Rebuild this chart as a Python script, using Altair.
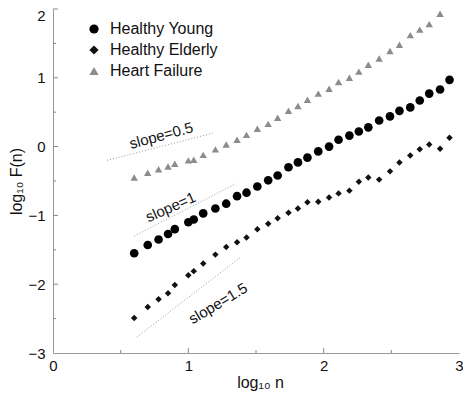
import altair as alt
import pandas as pd

# log10 n positions
log_n = [0.60, 0.70, 0.78, 0.85, 0.90, 1.00, 1.04, 1.11, 1.20, 1.28, 1.36, 1.43,
         1.51, 1.59, 1.66, 1.74, 1.81, 1.88, 1.96, 2.04, 2.11, 2.19, 2.26, 2.33,
         2.41, 2.49, 2.56, 2.64, 2.71, 2.78, 2.86, 2.93]

healthy_young = [-1.55, -1.43, -1.35, -1.27, -1.20, -1.10, -1.06, -0.97, -0.90, -0.83,
                 -0.72, -0.67, -0.58, -0.49, -0.42, -0.30, -0.23, -0.16, -0.07, 0.00,
                 0.10, 0.16, 0.22, 0.28, 0.38, 0.44, 0.52, 0.57, 0.67, 0.77, 0.83, 0.97]

healthy_elderly = [-2.49, -2.33, -2.22, -2.13, -2.01, -1.87, -1.81, -1.70, -1.57, -1.46,
                   -1.39, -1.32, -1.20, -1.12, -1.04, -0.96, -0.90, -0.81, -0.80, -0.74,
                   -0.68, -0.64, -0.51, -0.45, -0.48, -0.36, -0.23, -0.13, -0.04, 0.03,
                   -0.03, 0.13]

heart_failure = [-0.45, -0.38, -0.33, -0.29, -0.25, -0.20, -0.19, -0.12, -0.04, 0.03,
                 0.10, 0.17, 0.26, 0.33, 0.42, 0.52, 0.59, 0.68, 0.77, 0.84, 0.94,
                 1.00, 1.09, 1.19, 1.28, 1.39, 1.48, 1.62, 1.70, 1.78, 1.93]

series_names = ["Healthy Young", "Healthy Elderly", "Heart Failure"]
series_shapes = ["circle", "diamond", "triangle-up"]
series_colors = ["#000000", "#111111", "#8c8c8c"]
series_sizes = [75, 42, 55]

# reference slope lines (endpoints)
slope_names = ["slope=0.5", "slope=1", "slope=1.5"]
slope_x0 = [0.40, 0.60, 0.62]
slope_x1 = [1.19, 1.35, 1.39]
slope_y0 = [-0.20, -1.30, -2.77]
slope_y1 = [0.20, -0.54, -1.60]
label_x = [0.80, 0.87, 1.22]
label_y = [0.16, -0.88, -2.28]
label_angle = [345, 336, 329]

x_major = [1, 2]
x_minor = [0.5, 1.5, 2.5]
y_major = [-2, -1, 0, 1, 2]
y_minor = [-2.5, -1.5, -0.5, 0.5, 1.5]

FONT = "Liberation Sans"
W, H = 406, 344

series_values = [healthy_young, healthy_elderly, heart_failure]

xs = alt.Scale(domain=[0, 3], nice=False, zero=False)
ys = alt.Scale(domain=[-3, 2], nice=False, zero=False)

shape_enc = alt.Shape("series:N", scale=alt.Scale(domain=series_names, range=series_shapes),
                      legend=alt.Legend(title=None, orient="none", legendX=33, legendY=12,
                                        labelFontSize=16, labelFont=FONT, symbolSize=85,
                                        rowPadding=5, labelOffset=8, labelColor="#111",
                                        symbolStrokeWidth=0))
color_enc = alt.Color("series:N", scale=alt.Scale(domain=series_names, range=series_colors))

point_layers = []
for name, vals, size in zip(series_names, series_values, series_sizes):
    df = pd.DataFrame({"x": log_n[:len(vals)], "y": vals, "series": name})
    point_layers.append(
        alt.Chart(df).mark_point(filled=True, opacity=1, size=size).encode(
            x=alt.X("x:Q", scale=xs, axis=alt.Axis(
                values=[0, 1, 2, 3], format="d", title="log₁₀ n", tickSize=0, labelPadding=5,
                titleY=34, titleX=207, titleBaseline="alphabetic")),
            y=alt.Y("y:Q", scale=ys, axis=alt.Axis(
                values=[-3, -2, -1, 0, 1, 2], format="d", title="log₁₀ F(n)", tickSize=0,
                labelPadding=8, titleX=-32, titleY=172, titleBaseline="alphabetic",
                labelBaseline=alt.ExprRef(expr="datum.value == 2 ? 'top' : 'middle'"),
                labelOffset=alt.ExprRef(expr="datum.value == 2 ? -1 : 0"))),
            shape=shape_enc,
            color=color_enc,
        )
    )

line_rows = []
for n, a, b, c, d in zip(slope_names, slope_x0, slope_x1, slope_y0, slope_y1):
    line_rows.append({"name": n, "x": a, "y": c})
    line_rows.append({"name": n, "x": b, "y": d})
lines_df = pd.DataFrame(line_rows)
labels_df = pd.DataFrame({"name": slope_names, "x": label_x, "y": label_y, "angle": label_angle})

slope_lines = alt.Chart(lines_df).mark_line(color="#9a9a9a", strokeDash=[1, 2],
                                            strokeWidth=1).encode(
    x=alt.X("x:Q", scale=xs), y=alt.Y("y:Q", scale=ys), detail="name:N")

slope_text = alt.Chart(labels_df).mark_text(fontSize=15, font=FONT, color="#111").encode(
    x=alt.X("x:Q", scale=xs), y=alt.Y("y:Q", scale=ys), text="name:N",
    angle=alt.Angle("angle:Q", scale=None))

tick_style = dict(color="#888", strokeWidth=1)
xt_major = alt.Chart(pd.DataFrame({"v": x_major})).mark_rule(**tick_style).encode(
    x=alt.X("v:Q", scale=xs), y=alt.value(H), y2=alt.value(H - 5))
xt_minor = alt.Chart(pd.DataFrame({"v": x_minor})).mark_rule(**tick_style).encode(
    x=alt.X("v:Q", scale=xs), y=alt.value(H), y2=alt.value(H - 3))
yt_major = alt.Chart(pd.DataFrame({"v": y_major})).mark_rule(**tick_style).encode(
    y=alt.Y("v:Q", scale=ys), x=alt.value(0), x2=alt.value(5))
yt_minor = alt.Chart(pd.DataFrame({"v": y_minor})).mark_rule(**tick_style).encode(
    y=alt.Y("v:Q", scale=ys), x=alt.value(0), x2=alt.value(3))

chart = alt.layer(slope_lines, xt_major, xt_minor, yt_major, yt_minor, *point_layers,
                  slope_text).properties(
    width=W, height=H,
    background="white",
    autosize=alt.AutoSizeParams(type="none"),
    padding={"left": 45, "top": 1, "right": 4, "bottom": 39},
).configure_view(stroke=None).configure_axis(
    grid=False, domainColor="#999", domainWidth=1,
    labelFont=FONT, labelFontSize=15, labelColor="#111",
    titleFont=FONT, titleFontSize=16, titleFontWeight="normal", titleColor="#111",
    labelFlush=False,
)

chart.save("out.html", embed_options={"renderer": "svg", "actions": False})
